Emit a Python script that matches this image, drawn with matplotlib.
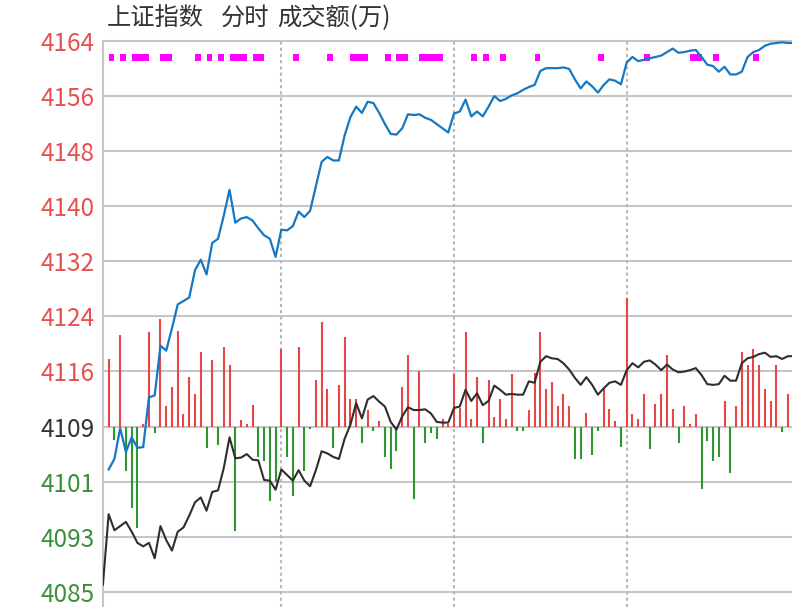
import matplotlib
matplotlib.use('Agg')
import matplotlib.pyplot as plt
import numpy as np

plt.rcParams['font.family'] = ['Noto Sans CJK SC', 'DejaVu Sans']

title_parts = ['上证指数', '分时', '成交额(万)']
tick_labels = ['4164', '4156', '4148', '4140', '4132', '4124', '4116', '4109', '4101', '4093', '4085']
top_price = 4164.1
grid_step = 7.88
base_price = top_price - 7 * grid_step   # 4109 line

# index line (blue), points every 2 minutes, starting at step 1
index_line = [
    4102.8, 4104.3, 4108.7, 4105.3, 4107.4, 4105.9, 4106.0, 4113.1, 4113.4, 4120.5,
    4119.8, 4123.0, 4126.4, 4126.9, 4127.4, 4131.3, 4132.8, 4130.7, 4135.2, 4135.8,
    4139.1, 4142.8, 4138.1, 4138.7, 4138.9, 4138.4, 4137.3, 4136.3, 4135.8, 4133.2,
    4137.1, 4137.0, 4137.6, 4139.7, 4138.9, 4139.8, 4143.3, 4146.8, 4147.5, 4147.0,
    4147.0, 4150.6, 4153.2, 4154.7, 4153.8, 4155.4, 4155.2, 4153.8, 4152.2, 4150.8,
    4150.7, 4151.6, 4153.6, 4153.5, 4153.6, 4153.1, 4152.8, 4152.2, 4151.6, 4151.0,
    4153.7, 4154.0, 4155.7, 4153.3, 4154.0, 4153.3, 4154.7, 4156.2, 4155.5, 4155.8,
    4156.3, 4156.6, 4157.1, 4157.5, 4157.8, 4159.8, 4160.2, 4160.2, 4160.2, 4160.3,
    4160.1, 4158.6, 4157.3, 4158.3, 4157.6, 4156.7, 4157.8, 4158.6, 4158.4, 4157.9,
    4161.0, 4161.8, 4161.2, 4161.4, 4161.6, 4161.8, 4162.0, 4162.5, 4163.0, 4162.4,
    4162.5, 4162.7, 4162.8, 4161.8, 4160.7, 4160.5, 4159.7, 4160.4, 4159.3, 4159.3,
    4159.7, 4161.8, 4162.5, 4162.8, 4163.4, 4163.7, 4163.8, 4163.9, 4163.8, 4163.8,
]

# second line (black), starting at step 0
other_line = [
    4086.3, 4096.4, 4094.1, 4094.7, 4095.3, 4093.9, 4092.3, 4091.8, 4092.3, 4090.1,
    4094.7, 4092.7, 4091.2, 4093.9, 4094.5, 4096.2, 4098.1, 4098.8, 4096.9, 4099.6,
    4099.8, 4103.0, 4107.4, 4104.4, 4104.5, 4105.0, 4104.2, 4104.1, 4101.3, 4101.2,
    4099.9, 4102.8, 4102.0, 4101.2, 4102.7, 4101.2, 4100.4, 4102.7, 4105.4, 4105.1,
    4104.6, 4104.3, 4107.2, 4109.2, 4112.3, 4110.1, 4112.8, 4113.3, 4112.5, 4111.8,
    4109.6, 4108.5, 4110.4, 4111.7, 4111.3, 4111.3, 4111.4, 4110.8, 4109.6, 4109.5,
    4109.5, 4111.6, 4111.8, 4114.2, 4112.6, 4113.7, 4112.0, 4112.6, 4114.8, 4114.2,
    4113.5, 4113.6, 4113.5, 4113.5, 4115.4, 4115.2, 4118.2, 4119.0, 4118.7, 4118.6,
    4118.0, 4117.1, 4115.9, 4114.9, 4116.0, 4114.9, 4113.5, 4114.4, 4115.2, 4115.4,
    4114.9, 4117.0, 4118.0, 4117.4, 4118.2, 4118.4, 4117.8, 4117.0, 4117.8, 4117.1,
    4116.7, 4116.8, 4117.0, 4117.3, 4116.3, 4115.0, 4114.9, 4115.0, 4116.2, 4115.5,
    4115.5, 4118.0, 4118.7, 4118.9, 4119.3, 4119.5, 4118.9, 4119.0, 4118.6, 4119.0,
    4119.0,
]

# amount bars relative to the 4109 line, starting at step 1
amount = [
    9.7, -1.9, 13.1, -6.4, -11.6, -14.5, 0.4, 13.5, -0.9, 15.4,
    2.9, 5.7, 13.7, 1.8, 7.1, 4.6, 10.6, -3.0, 9.5, -2.7,
    11.4, 8.8, -15.0, 0.9, 0.3, 3.1, -4.4, -5.0, -10.7, -8.0,
    11.1, -4.4, -10.0, 11.4, -6.4, -0.4, 6.6, 14.9, 5.4, -3.0,
    6.0, 12.8, 4.0, 4.0, -2.4, 2.3, -0.7, 0.8, -4.4, -6.1,
    -3.5, 5.7, 10.3, -10.4, 8.0, -2.4, -0.9, -1.8, 1.1, 0.4,
    7.5, 2.7, 13.5, 1.1, 7.1, -2.3, 6.6, 1.4, 4.0, 1.1,
    7.5, -0.7, -0.7, 2.3, 7.7, 13.5, 5.4, 6.3, 2.9, 4.6,
    2.9, -4.7, -4.7, 2.0, -4.1, -0.7, 5.3, 2.5, 0.8, -2.9,
    18.4, 1.8, 1.1, 4.6, -3.2, 3.2, 4.6, 10.3, 2.5, -2.3,
    2.9, 0.3, 1.8, -8.9, -2.1, -4.9, -4.3, 3.7, -6.7, 2.9,
    10.6, 8.8, 11.1, 8.8, 5.4, 3.7, 8.8, -0.8, 4.6,
]

# steps flagged with a magenta mark at the top
flags = [1, 3, 5, 6, 7, 10, 11, 16, 18, 20, 22, 23, 24, 26, 27, 33, 39, 43, 44, 45,
         49, 51, 52, 55, 56, 57, 58, 64, 66, 69, 75, 86, 94, 102, 103, 106, 113]

hour_marks = [31, 61, 91]

# layout (pixels)
W, H = 792, 607
step_px = 5.756
left_px = 102.9
top_grid_px = 40.9
grid_px = 55.09
ppp = grid_step / grid_px
n_steps = 121

fig = plt.figure(figsize=(W / 100, H / 100), dpi=100)
ax_top_px = 36
ax = fig.add_axes([left_px / W, 0, n_steps * step_px / W, (H - ax_top_px) / H])
ax.set_xlim(0, n_steps)
ylow = top_price - (H - top_grid_px) * ppp
yhigh = top_price + (top_grid_px - ax_top_px) * ppp
ax.set_ylim(ylow, yhigh)

grid_vals = [top_price - k * grid_step for k in range(len(tick_labels))]
for g in grid_vals:
    ax.axhline(g, color='#c6c6c6', lw=1.5, zorder=1)
for h in hour_marks:
    ax.vlines(h, ylow, top_price, color='#b8b8b8', lw=1.5,
              linestyles=(0, (1.5, 1.5)), zorder=1)

amt = np.array(amount)
amt_x = np.arange(1, len(amt) + 1)
bar_colors = np.where(amt >= 0, '#e64646', '#2f9530')
ax.vlines(amt_x, base_price, base_price + amt, colors=bar_colors, lw=1.5, zorder=2)

ax.bar(flags, 0.95, width=1, align='edge', bottom=top_price - 2.83,
       color='#ff00ff', zorder=3)

ax.plot(np.arange(len(other_line)), other_line, color='#2e2e2e', lw=1.5, zorder=4)
ax.plot(np.arange(1, len(index_line) + 1), index_line, color='#1478c4', lw=1.6, zorder=5)

for s in ['top', 'right', 'bottom']:
    ax.spines[s].set_visible(False)
ax.spines['left'].set_color('#c6c6c6')
ax.spines['left'].set_linewidth(1.5)
ax.spines['left'].set_bounds(ylow, top_price)

ax.set_xticks([])
ax.set_yticks(grid_vals)
ax.set_yticklabels(tick_labels, fontsize=17.5)
ax.tick_params(axis='y', length=0, pad=6)
label_colors = ['#e8504f'] * 7 + ['#333333'] + ['#3a903a'] * 3
for lab, c in zip(ax.get_yticklabels(), label_colors):
    lab.set_color(c)

for txt, xpx in zip(title_parts, [107, 221, 277]):
    fig.text(xpx / W, 1 - 18 / H, txt, fontsize=17.5, color='#333333', va='center', ha='left')

fig.savefig('out.png', dpi=100)
